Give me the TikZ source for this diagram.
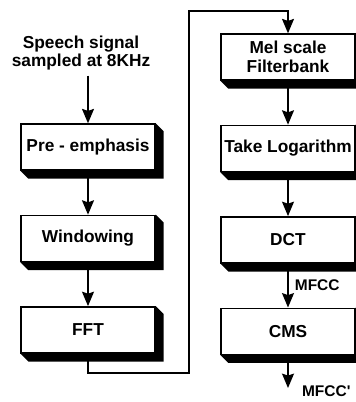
\documentclass[tikz,border=0pt]{standalone}
\usepackage{fontspec}
\setmainfont{Liberation Sans}
\usetikzlibrary{arrows.meta,positioning}

\begin{document}
\begin{tikzpicture}[font=\fontsize{12.3}{13.2}\selectfont\bfseries, >={Stealth[length=3.6mm, width=3mm, inset=0.5mm]}, line width=1pt, node distance=1.1cm,
  bx/.style={draw, fill=white, minimum width=3.35cm, minimum height=1.15cm, inner sep=1pt, align=center},
  lb/.style={inner sep=1pt, font=\fontsize{11}{12}\selectfont\bfseries}]
  \useasboundingbox (0,0) rectangle (8.9,10.05);
  \clip (0,0) rectangle (8.9,10.05);
  \node[align=center] (sig) at (2.025,8.725) {Speech signal\\sampled at 8KHz};
  \node[bx] (pre) at (2.2,6.375) {Pre - emphasis};
  \node[bx, below=of pre] (win) {Windowing};
  \node[bx, below=of win] (fft) {FFT};
  \node[bx] (mel) at (7.2,8.625) {Mel scale\\Filterbank};
  \node[bx, below=of mel] (lg) {Take Logarithm};
  \node[bx, below=of lg] (dct) {DCT};
  \node[bx, below=of dct] (cms) {CMS};
  % raised-box shadows
  \foreach \n in {pre,win,fft,mel,lg,dct,cms}
    \fill (\n.north east) -- ++(0.2,-0.2) -- ([shift={(0.2,-0.2)}]\n.south east) -- ([shift={(0.2,-0.2)}]\n.south west) -- (\n.south west) -- (\n.south east) -- cycle;
  \draw[->] (sig.south -| pre.north) -- (pre.north);
  \foreach \a/\b in {pre/win,win/fft,mel/lg,lg/dct} \draw[->] (\a) -- (\b);
  \draw[->] (dct) -- node[lb, right=1.2mm] {MFCC} (cms);
  \coordinate (lo) at (4.725,0.725);
  \coordinate (hi) at (4.725,9.775);
  \draw[->] (fft.south) |- (lo) -- (hi) -| (mel.north);
  \coordinate (out) at (7.2,0.35);
  \draw[->] (cms) -- (out);
  \node[lb, anchor=west] (mfcc) at (7.5,0.28) {MFCC\textquotesingle};
\end{tikzpicture}
\end{document}
